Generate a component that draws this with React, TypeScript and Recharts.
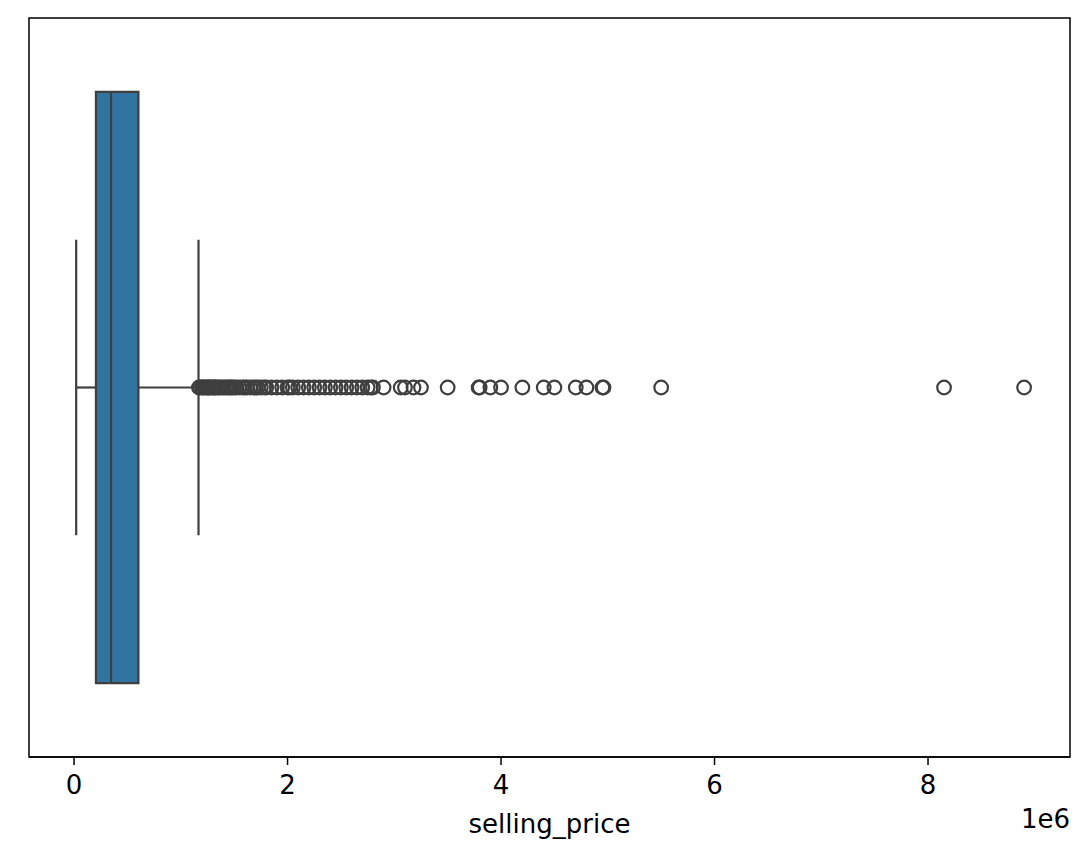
import {
  ComposedChart,
  Scatter,
  XAxis,
  YAxis,
  ReferenceArea,
  ReferenceLine,
  Label,
} from "recharts";

// selling_price summary
const whiskerLow = 20000;
const q1 = 205000;
const median = 347000;
const q3 = 603000;
const whiskerHigh = 1166000;

const outlierValues = [
  1170000, 1180000, 1200000, 1210000, 1220000, 1240000, 1250000, 1260000, 1270000, 1280000,
  1300000, 1310000, 1320000, 1330000, 1350000, 1360000, 1380000, 1400000, 1420000, 1440000,
  1450000, 1470000, 1480000, 1500000, 1520000, 1550000, 1580000, 1600000, 1620000, 1650000,
  1680000, 1700000, 1720000, 1750000, 1780000, 1800000, 1850000, 1900000, 1950000, 2000000,
  2020000, 2050000, 2100000, 2150000, 2200000, 2250000, 2300000, 2350000, 2400000, 2450000,
  2500000, 2550000, 2600000, 2650000, 2700000, 2750000, 2780000, 2800000, 2900000, 3060000,
  3100000, 3180000, 3250000, 3500000, 3790000, 3800000, 3900000, 4000000, 4200000, 4400000,
  4500000, 4700000, 4800000, 4950000, 4960000, 5500000, 8150000, 8900000,
];

const xTicks = [0, 2000000, 4000000, 6000000, 8000000];
const xDomain: [number, number] = [-422000, 9330000];
const yDomain: [number, number] = [-0.5, 0.5];

const EDGE = "#3f3f3f";
const FILL = "#3274a1";
const FONT = "DejaVu Sans, sans-serif";
const FONT_SIZE = 26;

const outliers = outlierValues.map((v) => ({ x: v, y: 0 }));

function Ring(props: any) {
  const { cx, cy } = props;
  return <circle cx={cx} cy={cy} r={6.8} fill="none" stroke={EDGE} strokeWidth={2.2} />;
}

export default function App() {
  return (
    <div style={{ position: "relative", width: 1081, height: 850, fontFamily: FONT }}>
      <ComposedChart
        width={1081}
        height={850}
        data={outliers}
        margin={{ top: 10, right: 19, bottom: 21, left: 21 }}
      >
        <XAxis
          type="number"
          dataKey="x"
          domain={xDomain}
          ticks={xTicks}
          allowDataOverflow
          tickFormatter={(v: number) => String(v / 1000000)}
          tick={{ fill: "#000", fontSize: FONT_SIZE, fontFamily: FONT }}
          tickLine={{ stroke: "#000", strokeWidth: 1.5 }}
          axisLine={{ stroke: "#000", strokeWidth: 1.5 }}
          tickSize={8}
          tickMargin={11}
          height={80}
        >
          <Label
            value="selling_price"
            position="insideBottom"
            offset={4}
            style={{ fill: "#000", fontSize: FONT_SIZE, fontFamily: FONT }}
          />
        </XAxis>
        <YAxis
          type="number"
          dataKey="y"
          domain={yDomain}
          ticks={[0]}
          allowDataOverflow
          width={0}
          tickFormatter={() => ""}
          tickLine={{ stroke: "#000", strokeWidth: 1.5 }}
          axisLine={{ stroke: "#000", strokeWidth: 1.5 }}
          tickSize={8}
        />
        {/* frame */}
        <ReferenceArea
          x1={xDomain[0]}
          x2={xDomain[1]}
          y1={yDomain[0]}
          y2={yDomain[1]}
          fill="none"
          stroke="#000"
          strokeWidth={1.5}
          ifOverflow="visible"
        />
        {/* whiskers */}
        <ReferenceLine
          segment={[{ x: whiskerLow, y: 0 }, { x: q1, y: 0 }]}
          stroke={EDGE}
          strokeWidth={2.2}
        />
        <ReferenceLine
          segment={[{ x: q3, y: 0 }, { x: whiskerHigh, y: 0 }]}
          stroke={EDGE}
          strokeWidth={2.2}
        />
        <ReferenceLine
          segment={[{ x: whiskerLow, y: -0.2 }, { x: whiskerLow, y: 0.2 }]}
          stroke={EDGE}
          strokeWidth={2.2}
        />
        <ReferenceLine
          segment={[{ x: whiskerHigh, y: -0.2 }, { x: whiskerHigh, y: 0.2 }]}
          stroke={EDGE}
          strokeWidth={2.2}
        />
        {/* box */}
        <ReferenceArea
          x1={q1}
          x2={q3}
          y1={-0.4}
          y2={0.4}
          fill={FILL}
          fillOpacity={1}
          stroke={EDGE}
          strokeWidth={2.2}
        />
        <ReferenceLine
          segment={[{ x: median, y: -0.4 }, { x: median, y: 0.4 }]}
          stroke={EDGE}
          strokeWidth={2.2}
        />
        <Scatter data={outliers} dataKey="y" shape={<Ring />} isAnimationActive={false} />
      </ComposedChart>
      <div
        style={{
          position: "absolute",
          right: 19,
          top: 796,
          fontSize: FONT_SIZE,
          fontFamily: FONT,
          color: "#000",
        }}
      >
        1e6
      </div>
    </div>
  );
}
